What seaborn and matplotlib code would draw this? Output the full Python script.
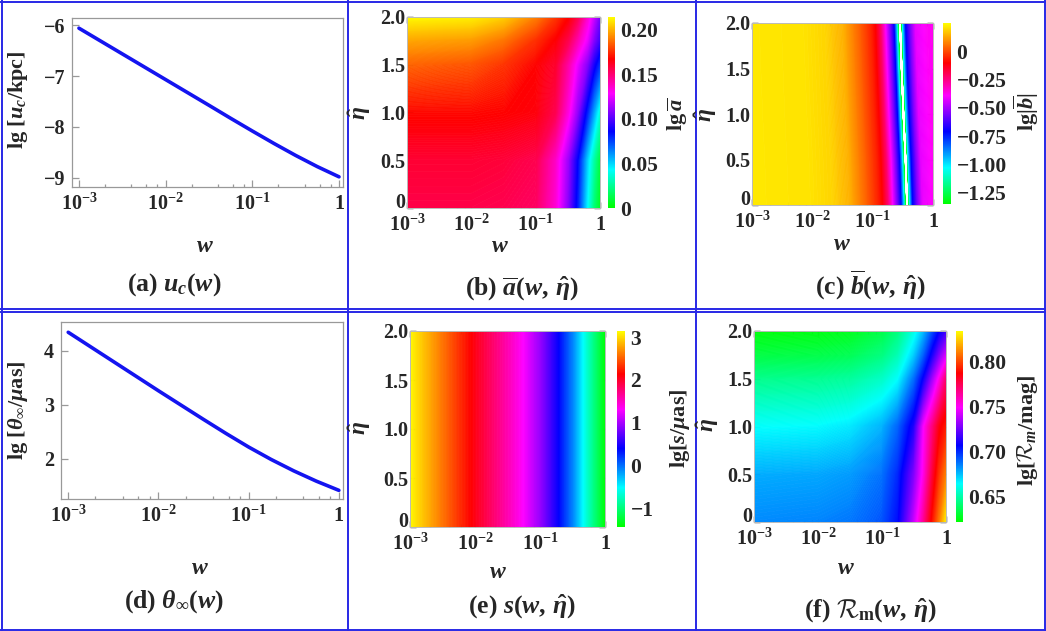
import numpy as np
import pandas as pd
import seaborn as sns
import matplotlib.pyplot as plt
from matplotlib.colors import LinearSegmentedColormap, Normalize
from matplotlib.cm import ScalarMappable

# ---- data (x is lg w) ----
# (a) lg[u_c/kpc] and (d) lg[theta_inf/muas]
line_logw = [-3.0, -2.5, -2.0, -1.5, -1.25, -1.0, -0.75, -0.5, -0.25, 0.0]
uc_vals = [-6.06, -6.565, -7.07, -7.575, -7.83, -8.08, -8.325, -8.56, -8.78, -8.98]
theta_vals = [4.34, 3.80, 3.26, 2.73, 2.47, 2.22, 1.99, 1.78, 1.59, 1.42]

# (b) lg a-bar on a (eta, lg w) grid
b_logw = [-3.0, -2.0, -1.5, -1.0, -0.7, -0.5, -0.35, -0.2, -0.1, 0.0]
b_eta = [0.0, 0.5, 1.0, 1.5, 1.75, 2.0]
b_vals = [
    [0.156, 0.156, 0.155, 0.152, 0.135, 0.108, 0.080, 0.043, 0.020, 0.005],
    [0.159, 0.159, 0.158, 0.155, 0.137, 0.112, 0.085, 0.050, 0.028, 0.010],
    [0.168, 0.168, 0.167, 0.165, 0.155, 0.133, 0.110, 0.080, 0.058, 0.035],
    [0.185, 0.182, 0.176, 0.167, 0.160, 0.142, 0.125, 0.108, 0.090, 0.075],
    [0.197, 0.195, 0.188, 0.175, 0.166, 0.155, 0.140, 0.125, 0.108, 0.095],
    [0.213, 0.211, 0.205, 0.190, 0.177, 0.167, 0.155, 0.135, 0.120, 0.105],
]

# (c) lg|b-bar|: profile across the zero line of b-bar, and where that line sits
c_eta = [0.0, 0.5, 1.0, 1.5, 2.0]
c_zero_logw = [-0.43, -0.455, -0.49, -0.52, -0.547]
c_offset = [-2.7, -1.6, -1.25, -0.95, -0.7, -0.5, -0.42, -0.33, -0.25, -0.17, -0.11,
            -0.07, -0.035, 0.0, 0.035, 0.05, 0.1, 0.18, 0.26, 0.45, 0.65]
c_profile = [0.22, 0.21, 0.19, 0.14, 0.04, -0.05, -0.10, -0.22, -0.39, -0.56, -0.71,
             -0.95, -1.30, -2.0, -1.30, -1.03, -0.72, -0.55, -0.42, -0.38, -0.37]

# (e) lg[s/muas], no eta dependence
s_logw = [-3.0, -2.5, -2.0, -1.5, -1.25, -1.0, -0.75, -0.5, -0.25, 0.0]
s_vals = [3.10, 2.57, 2.05, 1.55, 1.28, 0.92, 0.45, -0.10, -0.80, -1.43]

# (f) lg[R_m/mag]
f_logw = [-3.0, -2.0, -1.5, -1.0, -0.75, -0.5, -0.35, -0.2, -0.1, 0.0]
f_eta = [0.0, 0.5, 1.0, 1.5, 1.75, 2.0]
f_vals = [
    [0.684, 0.685, 0.687, 0.693, 0.705, 0.740, 0.765, 0.792, 0.810, 0.830],
    [0.678, 0.679, 0.681, 0.688, 0.700, 0.728, 0.752, 0.780, 0.797, 0.810],
    [0.664, 0.665, 0.668, 0.677, 0.690, 0.712, 0.748, 0.770, 0.785, 0.792],
    [0.645, 0.646, 0.648, 0.655, 0.664, 0.688, 0.708, 0.735, 0.752, 0.770],
    [0.633, 0.634, 0.636, 0.643, 0.652, 0.672, 0.690, 0.712, 0.728, 0.742],
    [0.624, 0.625, 0.627, 0.634, 0.643, 0.660, 0.675, 0.695, 0.707, 0.716],
]

# ---- style ----
sns.set_theme(style='white')
plt.rcParams['font.family'] = ['Liberation Serif', 'DejaVu Serif']
plt.rcParams['font.weight'] = 'bold'
plt.rcParams['mathtext.fontset'] = 'custom'
plt.rcParams['mathtext.rm'] = 'Liberation Serif:bold'
plt.rcParams['mathtext.it'] = 'Liberation Serif:italic:bold'
plt.rcParams['mathtext.bf'] = 'Liberation Serif:bold'
plt.rcParams['mathtext.cal'] = 'cmsy10'

W, H = 1046, 631
fig = plt.figure(figsize=(W / 100, H / 100), dpi=100)
fig.patch.set_facecolor('white')

TICK = 14.5
CTICK = 15.5
LAB = 16
WLAB = 17
CAP = 18.5

hue = LinearSegmentedColormap.from_list(
    'hue', [(0.0, '#00ff00'), (0.2, '#00ffff'), (0.4, '#0000ff'),
            (0.6, '#ff00ff'), (0.78, '#ff0000'), (1.0, '#ffff00')], N=512)
hue_white = hue.copy()
hue_white.set_under('white')


def px_axes(l, t, r, b):
    return fig.add_axes([l / W, 1 - b / H, (r - l) / W, (b - t) / H])


def px_text(x, y, s, **kw):
    fig.text(x / W, 1 - y / H, s, ha='center', va='center', **kw)


dec_labels = ['$10^{-3}$', '$10^{-2}$', '$10^{-1}$', '1']
minor_logw = [np.log10(k) + p for p in (-3, -2, -1) for k in (2, 4, 6, 8)]


def line_panel(box, vals, ylim, yticks):
    ax = px_axes(*box)
    df = pd.DataFrame({'w': 10.0 ** np.array(line_logw), 'v': vals})
    sns.lineplot(data=df, x='w', y='v', ax=ax, color='#1414f0', linewidth=2.6)
    ax.set_xscale('log')
    ax.set_xlim(10 ** -3.08, 10 ** 0.046)
    ax.set_ylim(*ylim)
    ax.set_xticks([1e-3, 1e-2, 1e-1, 1.0])
    ax.set_xticklabels(dec_labels)
    ax.set_xticks([10 ** m for m in minor_logw], minor=True)
    ax.set_xticklabels([], minor=True)
    ax.set_yticks(yticks)
    ax.set_xlabel('')
    ax.set_ylabel('')
    for sp in ax.spines.values():
        sp.set_color('#999999')
        sp.set_linewidth(0.9)
    ax.tick_params(which='both', direction='in', color='#999999', labelsize=TICK,
                   left=True, bottom=True, top=False, right=False)
    ax.tick_params(which='major', length=5, width=0.9, pad=5)
    ax.tick_params(which='minor', length=2.5, width=0.9)
    return ax


def heat_panel(box, cbox, X, Y, Z, cmap, vmin, vmax, cticks, clabels):
    ax = px_axes(*box)
    norm = Normalize(vmin, vmax)
    cs = ax.contourf(X, Y, Z, levels=np.linspace(vmin, vmax, 481), cmap=cmap,
                     norm=norm, extend='both', antialiased=True)
    cs.set_edgecolor('face')
    cs.set_linewidth(0.5)
    ax.set_xlim(-3, 0)
    ax.set_ylim(0, 2)
    ax.set_xticks([-3, -2, -1, 0])
    ax.set_xticklabels(dec_labels)
    ax.set_xticks(minor_logw, minor=True)
    ax.set_yticks([0, 0.5, 1.0, 1.5, 2.0])
    ax.set_yticklabels(['0', '0.5', '1.0', '1.5', '2.0'])
    # the corner "0" sits just above the "10^-3" label
    ax.get_yticklabels()[0].set_verticalalignment('baseline')
    for sp in ax.spines.values():
        sp.set_color('#bbbbbb')
        sp.set_linewidth(0.7)
    ax.tick_params(which='both', direction='in', color='#222222', labelsize=TICK,
                   top=True, right=True, left=True, bottom=True)
    ax.tick_params(which='major', length=4.5, width=1.0)
    ax.tick_params(axis='x', which='major', pad=5)
    ax.tick_params(axis='y', which='major', pad=1)
    ax.tick_params(which='minor', length=2.5, width=0.9)
    cax = px_axes(*cbox)
    cb = fig.colorbar(ScalarMappable(norm=norm, cmap=cmap), cax=cax)
    cb.outline.set_visible(False)
    cb.set_ticks(cticks)
    cb.set_ticklabels(clabels)
    cax.tick_params(length=0, labelsize=CTICK, pad=4)
    return ax


# (a)
line_panel((72, 18, 343, 187), uc_vals, (-9.18, -5.86), [-9, -8, -7, -6])
px_text(18, 100, 'lg [$u_c$/kpc]', rotation=90, fontsize=LAB)
px_text(205, 247, '$w$', fontsize=WLAB)
px_text(174, 285, '(a) $u_c(w)$', fontsize=CAP)

# (d)
line_panel((61, 322, 343, 499), theta_vals, (1.26, 4.53), [2, 3, 4])
px_text(18, 410, r'lg [$\theta_\infty/\mu$as]', rotation=90, fontsize=LAB)
px_text(200, 568, '$w$', fontsize=WLAB)
px_text(174, 602, r'(d) $\theta_\infty(w)$', fontsize=CAP)

# (b)
Xb, Yb = np.meshgrid(b_logw, b_eta)
heat_panel((407, 17, 600, 208), (608, 17, 615, 208), Xb, Yb, np.array(b_vals), hue,
           0.0, 0.214, [0, 0.05, 0.10, 0.15, 0.20], ['0', '0.05', '0.10', '0.15', '0.20'])
px_text(360, 113, r'$\hat{\eta}$', rotation=90, fontsize=WLAB)
px_text(500, 247, '$w$', fontsize=WLAB)
px_text(678, 114, r'lg$\,\overline{a}$', rotation=90, fontsize=LAB)
px_text(522, 289, r'(b) $\overline{a}(w,\,\hat{\eta})$', fontsize=CAP)

# (c)
Xc = np.array(c_zero_logw)[:, None] + np.array(c_offset)[None, :]
Yc = np.repeat(np.array(c_eta)[:, None], len(c_offset), axis=1)
Zc = np.tile(c_profile, (len(c_eta), 1))
heat_panel((752, 23, 933, 205), (943, 23, 951, 204), Xc, Yc, Zc, hue_white,
           -1.35, 0.25, [0, -0.25, -0.5, -0.75, -1.0, -1.25],
           ['0', '\u22120.25', '\u22120.50', '\u22120.75', '\u22121.00', '\u22121.25'])
px_text(706, 115, r'$\hat{\eta}$', rotation=90, fontsize=WLAB)
px_text(842, 244, '$w$', fontsize=WLAB)
px_text(1026, 112, r'lg$|\overline{b}|$', rotation=90, fontsize=LAB)
px_text(870, 285, r'(c) $\overline{b}(w,\,\hat{\eta})$', fontsize=CAP)

# (e)
Xe, Ye = np.meshgrid(s_logw, [0.0, 2.0])
Ze = np.vstack([s_vals, s_vals])
heat_panel((410, 331, 605, 527), (617, 331, 625, 527), Xe, Ye, Ze, hue,
           -1.43, 3.14, [3, 2, 1, 0, -1], ['3', '2', '1', '0', '\u22121'])
px_text(360, 428, r'$\hat{\eta}$', rotation=90, fontsize=WLAB)
px_text(498, 573, '$w$', fontsize=WLAB)
px_text(680, 428, r'lg[$s/\mu$as]', rotation=90, fontsize=LAB)
px_text(522, 607, r'(e) $s(w,\,\hat{\eta})$', fontsize=CAP)

# (f)
Xf, Yf = np.meshgrid(f_logw, f_eta)
heat_panel((754, 331, 946, 522), (956, 331, 963, 522), Xf, Yf, np.array(f_vals), hue,
           0.622, 0.834, [0.65, 0.70, 0.75, 0.80], ['0.65', '0.70', '0.75', '0.80'])
px_text(708, 425, r'$\hat{\eta}$', rotation=90, fontsize=WLAB)
px_text(846, 569, '$w$', fontsize=WLAB)
px_text(1027, 430, r'lg[$\mathcal{R}_m$/mag]', rotation=90, fontsize=LAB)
px_text(870, 611, r'(f) $\mathcal{R}_\mathbf{m}(w,\,\hat{\eta})$', fontsize=CAP)

# blue cell frames
border = dict(color='#2828e6', linewidth=1.4, transform=fig.transFigure)
for x in (1.5, 348, 696, 1044.5):
    fig.add_artist(plt.Line2D([x / W, x / W], [0, 1], **border))
for y in (1.5, 308.5, 311.5, 629.5):
    fig.add_artist(plt.Line2D([0, 1], [1 - y / H, 1 - y / H], **border))

fig.savefig('out.png', dpi=100)
